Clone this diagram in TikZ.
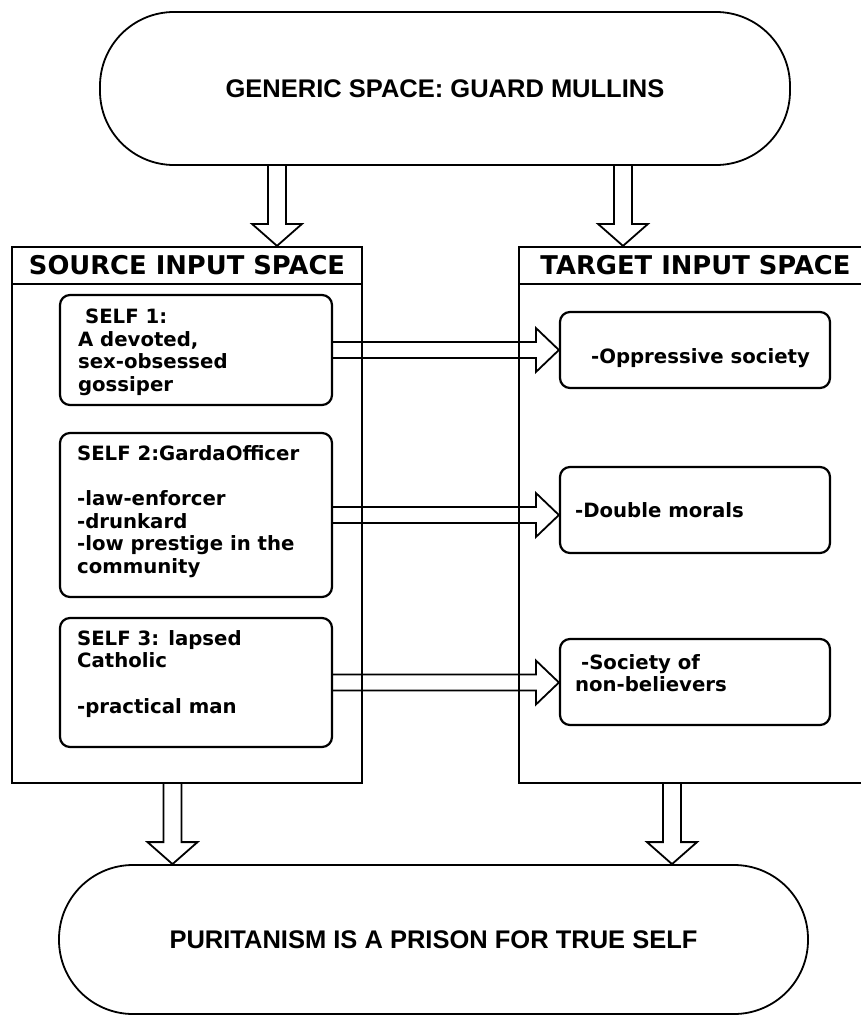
\documentclass[tikz,border=0pt]{standalone}
\usepackage{fontspec}
\usetikzlibrary{calc}
\newfontfamily\boxfont{DejaVu Sans}
\newfontfamily\ovalfont{Liberation Sans}

% hollow block arrow pointing down: #1 = open end of the shaft, #2 = tip
\newcommand\downblock[2]{%
  \draw[hollow] ($(#1)+(-9,0)$) -- ($(#2)+(-9,-22)$) -- ($(#2)+(-25,-22)$) -- (#2)
    -- ($(#2)+(25,-22)$) -- ($(#2)+(9,-22)$) -- ($(#1)+(9,0)$);}
% hollow block arrow pointing right: #1 = open end of the shaft, #2 = tip
\newcommand\rightblock[2]{%
  \draw[hollow] ($(#1)+(0,-8)$) -- ($(#2)+(-23,-8)$) -- ($(#2)+(-23,-22)$) -- (#2)
    -- ($(#2)+(-23,22)$) -- ($(#2)+(-23,8)$) -- ($(#1)+(0,8)$);}

\begin{document}
\begin{tikzpicture}[x=1pt,y=-1pt,
  frame/.style={draw=black, line width=2.2pt, inner sep=0pt},
  oval/.style={draw=black, line width=1.8pt, rounded corners=74pt, inner sep=0pt,
    font=\ovalfont\bfseries\fontsize{25.5}{30}\selectfont},
  header/.style={frame, minimum height=37pt,
    font=\boxfont\bfseries\fontsize{25.8}{30}\selectfont},
  item/.style={frame, rounded corners=10pt},
  itemtext/.style={anchor=north west, inner sep=0pt, align=left,
    font=\boxfont\bfseries\fontsize{19.7}{22.5}\selectfont},
  hollow/.style={draw=black, line width=1.8pt, line join=miter}
]
\useasboundingbox (0,0) rectangle (861,1017);
\clip (0,0) rectangle (861,1017);

% generic space and blend
\node[oval, minimum width=690pt, minimum height=153pt] (gen) at (445,88.5)
  {GENERIC SPACE: GUARD MULLINS};
\node[oval, minimum width=749pt, minimum height=149pt] (res) at (433.5,939.5)
  {PURITANISM IS A PRISON FOR TRUE SELF};

% input space panels
\node[frame, minimum width=350pt, minimum height=536pt] (src) at (187,515) {};
\node[header, minimum width=350pt, anchor=north] (srch) at (src.north) {SOURCE INPUT SPACE};
\node[frame, minimum width=353pt, minimum height=536pt] (tgt) at (695.5,515) {};
\node[header, minimum width=353pt, anchor=north] (tgth) at (tgt.north) {TARGET INPUT SPACE};

% source items
\node[item, minimum width=272pt, minimum height=110pt] (s1) at (196,350) {};
\node[item, minimum width=272pt, minimum height=164pt] (s2) at (196,515) {};
\node[item, minimum width=272pt, minimum height=129pt] (s3) at (196,682.5) {};
\node[itemtext] (s1x) at ([shift={(19,15)}]s1.north west)
  {\hspace*{7pt}SELF 1:\\A devoted,\\sex-obsessed\\gossiper};
\node[itemtext] (s2x) at ([shift={(18,13)}]s2.north west)
  {SELF 2:GardaOfficer\\[23pt]-law-enforcer\\-drunkard\\-low prestige in the\\community};
\node[itemtext] (s3x) at ([shift={(18,13)}]s3.north west)
  {SELF 3: lapsed\\Catholic\\[23pt]-practical man};

% target items
\node[item, minimum width=270pt, minimum height=76pt] (t1) at (695,350) {};
\node[item, minimum width=270pt, minimum height=86pt] (t2) at (695,510) {};
\node[item, minimum width=270pt, minimum height=86pt] (t3) at (695,682) {};
\node[itemtext] (t1x) at ([shift={(32,37)}]t1.north west) {-Oppressive society};
\node[itemtext] (t2x) at ([shift={(16,36)}]t2.north west) {-Double morals};
\node[itemtext] (t3x) at ([shift={(16,16)}]t3.north west)
  {\hspace*{6pt}-Society of\\non-believers};

% arrow positions
\coordinate (ax1) at (277,0);
\coordinate (ax2) at (623,0);
\coordinate (bx1) at (172.5,0);
\coordinate (bx2) at (672,0);
\coordinate (g1) at (gen.south -| ax1);
\coordinate (g1t) at (src.north -| ax1);
\coordinate (g2) at (gen.south -| ax2);
\coordinate (g2t) at (tgt.north -| ax2);
\coordinate (r1) at (src.south -| bx1);
\coordinate (r1t) at (res.north -| bx1);
\coordinate (r2) at (tgt.south -| bx2);
\coordinate (r2t) at (res.north -| bx2);
\coordinate (h1t) at (s1.east -| t1.west);
\coordinate (h2t) at (s2.east -| t2.west);
\coordinate (h3t) at (s3.east -| t3.west);

% projections
\downblock{g1}{g1t}
\downblock{g2}{g2t}
\downblock{r1}{r1t}
\downblock{r2}{r2t}
\rightblock{s1.east}{h1t}
\rightblock{s2.east}{h2t}
\rightblock{s3.east}{h3t}
\end{tikzpicture}
\end{document}
